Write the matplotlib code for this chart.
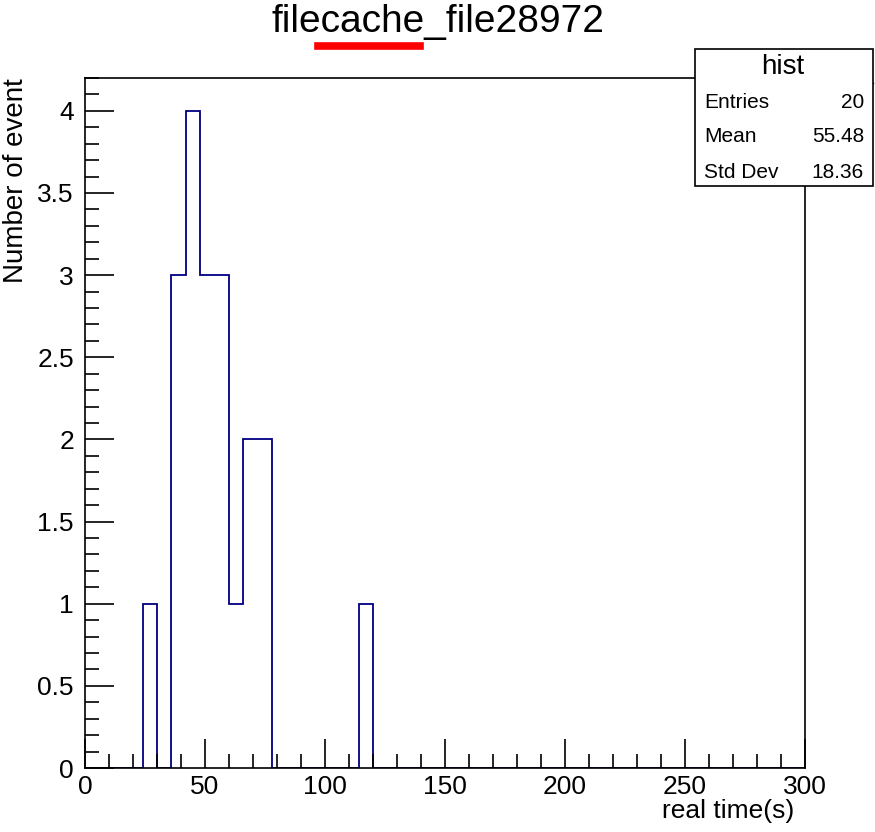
import matplotlib.pyplot as plt
from matplotlib.lines import Line2D
from matplotlib.ticker import MultipleLocator
import numpy as np

# bin edges (width 6, range 0-300) and counts
bin_edges = np.arange(0, 306, 6)
bin_counts = np.zeros(50)
filled_bins = [4, 6, 7, 8, 9, 10, 11, 12, 19]
filled_counts = [1, 3, 4, 3, 3, 1, 2, 2, 1]
bin_counts[filled_bins] = filled_counts

title = "filecache_file28972"
stats_name = "hist"
stats_labels = ["Entries", "Mean", "Std Dev"]
stats_values = ["20", "55.48", "18.36"]

plt.rcParams['font.family'] = ['Liberation Sans', 'DejaVu Sans']

fig = plt.figure(figsize=(8.75, 8.32), dpi=100)
ax = fig.add_axes([85 / 875, 1 - 768 / 832, 720 / 875, 690 / 832])

ax.stairs(bin_counts, bin_edges, color='#000080', linewidth=1.3)
ax.set_xlim(0, 300)
ax.set_ylim(0, 4.2)

ax.xaxis.set_major_locator(MultipleLocator(50))
ax.xaxis.set_minor_locator(MultipleLocator(10))
ax.yaxis.set_major_locator(MultipleLocator(0.5))
ax.yaxis.set_minor_locator(MultipleLocator(0.1))
ax.tick_params(which='both', direction='in', top=False, right=False, width=1.2, labelsize=19)
ax.tick_params(which='major', length=21)
ax.tick_params(which='minor', length=10)
ax.tick_params(axis='x', pad=5)
ax.tick_params(axis='y', pad=8)
ax.set_yticks(np.arange(0, 4.01, 0.5))
ax.set_yticklabels(["0", "0.5", "1", "1.5", "2", "2.5", "3", "3.5", "4"])
for s in ax.spines.values():
    s.set_linewidth(1.2)

ax.set_xlabel("real time(s)", fontsize=19, ha='right', x=0.985, labelpad=0)
fig.text(16 / 875, 1 - 78 / 832, "Number of event", fontsize=20, rotation=90,
         ha='center', va='top')

fig.text(438 / 875, 1 - 22 / 832, title, fontsize=28, ha='center', va='center')
fig.add_artist(Line2D([318 / 875, 420 / 875], [1 - 46 / 832, 1 - 46 / 832],
                      color='red', linewidth=5.5, transform=fig.transFigure))

# stats box
bx0, bx1 = 695 / 875, 873 / 875
by0, by1 = 1 - 186 / 832, 1 - 49 / 832
sep = 1 - 83 / 832
fig.patches.append(plt.Rectangle((bx0, by0), bx1 - bx0, by1 - by0, transform=fig.transFigure,
                                 facecolor='white', edgecolor='black', linewidth=1.2, zorder=5))
fig.add_artist(Line2D([bx0, bx1], [sep, sep], color='black', linewidth=1.0, transform=fig.transFigure))
fig.text(783 / 875, 1 - 67 / 832, stats_name, fontsize=20, ha='center', va='center', zorder=6)
row_y = [102, 137, 172]
for lab, val, yy in zip(stats_labels, stats_values, row_y):
    fig.text(704 / 875, 1 - yy / 832, lab, fontsize=15, ha='left', va='center', zorder=6)
    fig.text(864 / 875, 1 - yy / 832, val, fontsize=15, ha='right', va='center', zorder=6)

plt.savefig("out.png", dpi=100)
